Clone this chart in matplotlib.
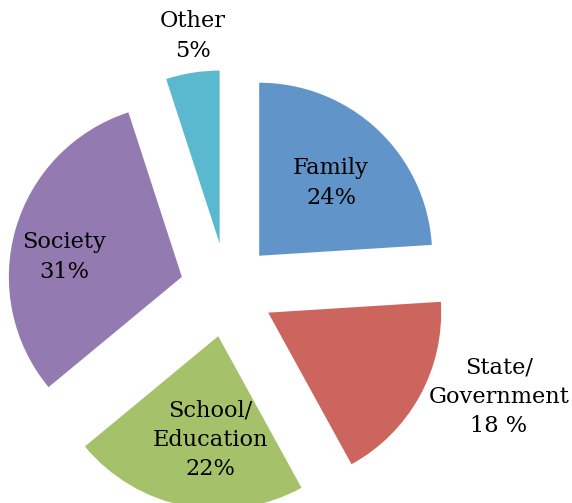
import matplotlib.pyplot as plt

# Share of responses by category
categories = ["Family", "State/\nGovernment", "School/\nEducation", "Society", "Other"]
shares = [24, 18, 22, 31, 5]
pct_suffix = ["%", " %", "%", "%", "%"]
colors = ["#6195c9", "#cd655f", "#a5c26b", "#937bb2", "#5bb9cf"]

# where each label sits (pixel-style coordinates, y measured from the bottom)
label_pos = [(331, 320), (499, 106), (210, 63), (64, 246), (193, 467)]

W, H = 572, 503
fig = plt.figure(figsize=(W / 100, H / 100), dpi=100)
ax = fig.add_axes([0, 0, 1, 1])

ax.pie(shares, colors=colors, startangle=90, counterclock=False,
       center=(227, 213), radius=173, explode=[47] * len(shares),
       wedgeprops=dict(linewidth=0), frame=True)
ax.set_xlim(0, W)
ax.set_ylim(0, H)
ax.set_aspect("equal")
ax.axis("off")

for name, val, suf, (x, y) in zip(categories, shares, pct_suffix, label_pos):
    ax.text(x, y, "%s\n%d%s" % (name, val, suf), ha="center", va="center",
            fontsize=16.2, family="DejaVu Serif", linespacing=1.42, color="black")

fig.savefig("out.png", dpi=100)
